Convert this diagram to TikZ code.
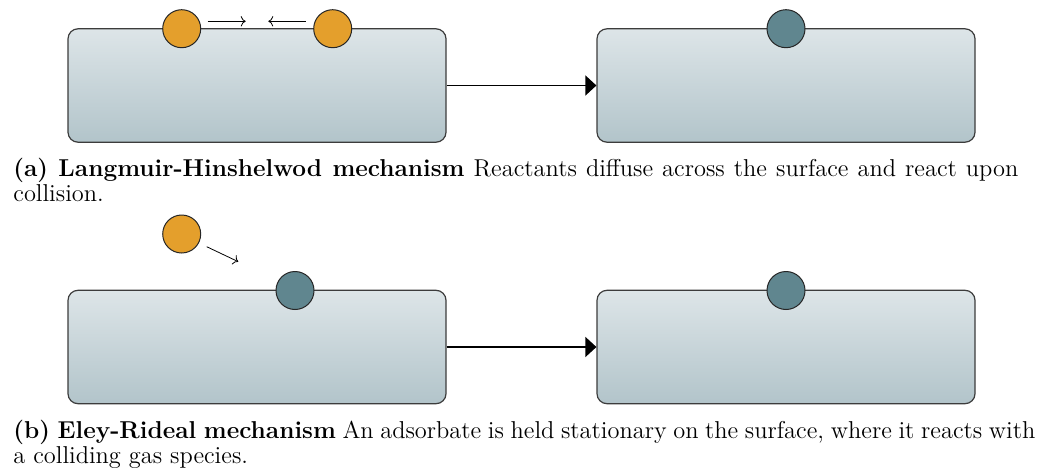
\documentclass[tikz,border=0pt]{standalone}
\usetikzlibrary{arrows.meta}
\definecolor{adsorb}{RGB}{228,159,44}
\definecolor{product}{RGB}{96,134,143}
\definecolor{surftop}{RGB}{221,229,232}
\definecolor{surfbot}{RGB}{178,196,202}
\definecolor{edge}{RGB}{60,60,60}
\tikzset{
  surface/.style={rectangle, rounded corners=5pt, minimum width=189pt,
    minimum height=56.7pt, inner sep=0pt, draw=edge, line width=0.6pt,
    top color=surftop, bottom color=surfbot},
  particle/.style={circle, minimum size=19pt, inner sep=0pt,
    draw=black!85, line width=0.5pt},
  reactant/.style={particle, fill=adsorb},
  adsorbate/.style={particle, fill=product},
  stepline/.style={line width=0.6pt, -{Triangle[length=5.5pt,width=10pt]}},
  motion/.style={line width=0.4pt, ->},
  caption/.style={anchor=base west, inner sep=0pt, align=justify,
    font=\fontsize{12.2}{10.5}\selectfont},
}
\begin{document}
\begin{tikzpicture}[x=0.5pt, y=-0.5pt]
\useasboundingbox (0,0) rectangle (1043,471);

% (a) Langmuir-Hinshelwood
\node[surface] (lhA) at (257,85.5) {};
\node[surface] (lhB) at (786,85.5) {};
\node[reactant] (lhR1) at (181.7,28.7) {};
\node[reactant] (lhR2) at (332.7,28.7) {};
\node[adsorbate] (lhP) at (786,28.7) {};
\coordinate (lhm1s) at (207.7,21.3);
\coordinate (lhm1e) at (245.7,21.3);
\coordinate (lhm2s) at (305.7,21.3);
\coordinate (lhm2e) at (268.3,21.3);
\draw[motion] (lhm1s) -- (lhm1e);
\draw[motion] (lhm2s) -- (lhm2e);
\draw[stepline] (lhA.east) -- (lhB.west);
\node[caption, text width=502.5pt] (capA) at (13,176.7)
  {\textbf{(a) Langmuir-Hinshelwod mechanism} Reactants diffuse across the surface and react upon\linebreak collision.};

% (b) Eley-Rideal
\node[surface] (erA) at (257,347) {};
\node[surface] (erB) at (786,347) {};
\node[reactant] (erG) at (181.7,234) {};
\node[adsorbate] (erS) at (295,290.5) {};
\node[adsorbate] (erP) at (786,290.5) {};
\coordinate (ermS) at (206.7,246.7);
\coordinate (ermE) at (238.3,261.7);
\draw[motion] (ermS) -- (ermE);
\draw[stepline] (erA.east) -- (erB.west);
\node[caption, text width=511pt] (capB) at (13,438.3)
  {\textbf{(b) Eley-Rideal mechanism} An adsorbate is held stationary on the surface, where it reacts with\linebreak a colliding gas species.};
\end{tikzpicture}
\end{document}
